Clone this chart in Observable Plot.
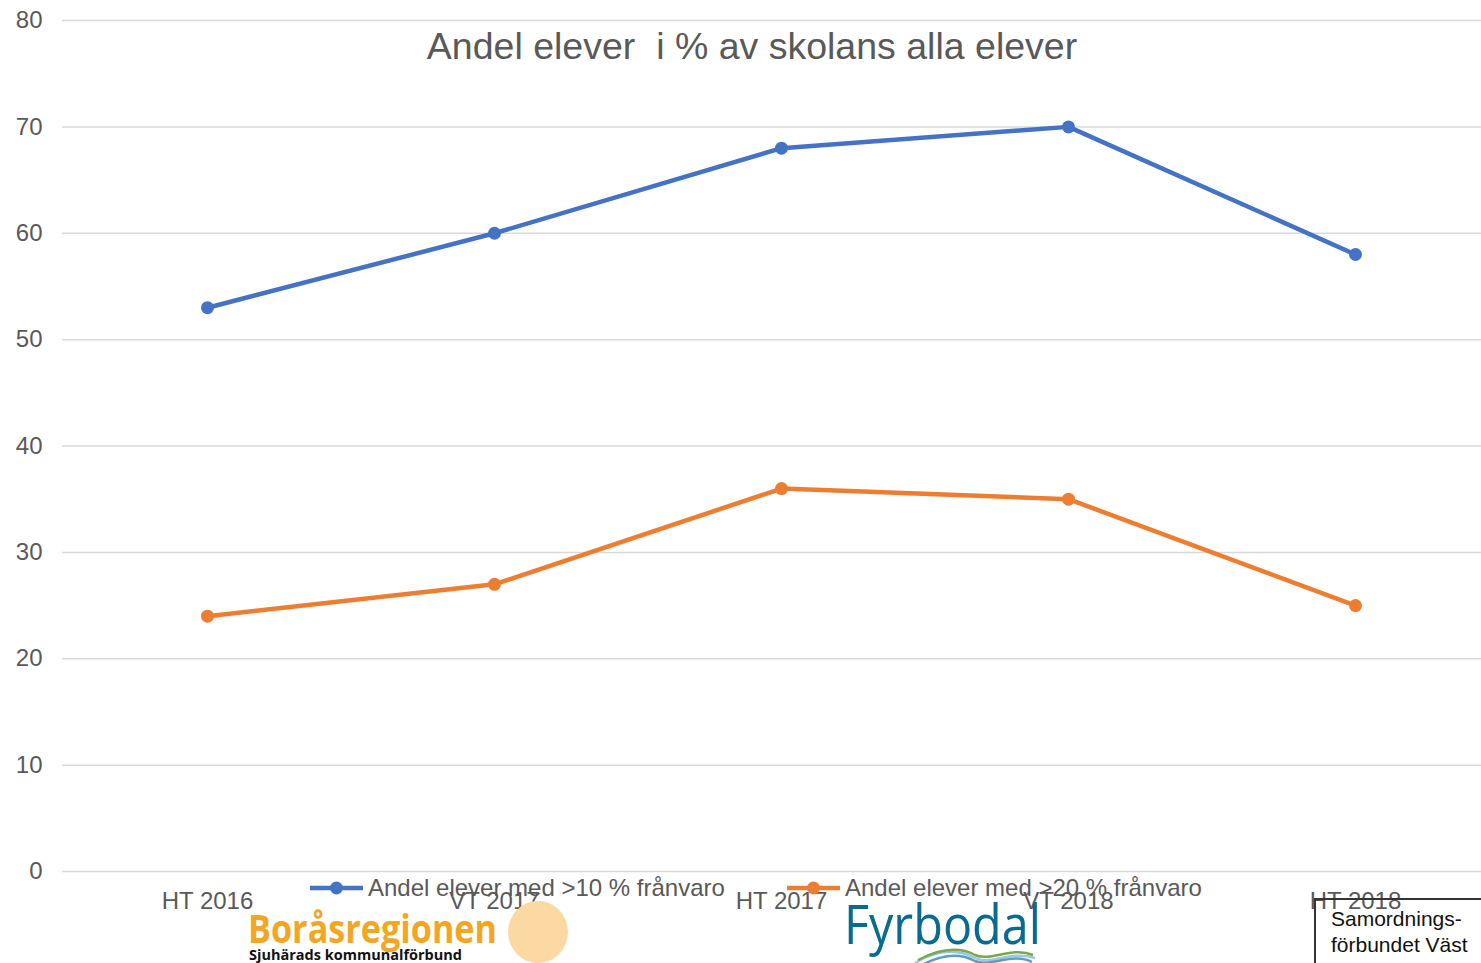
<!DOCTYPE html>
<html>
<head>
<meta charset="utf-8">
<script src="https://cdn.jsdelivr.net/npm/d3@7"></script>
<script src="https://cdn.jsdelivr.net/npm/@observablehq/plot@0.6"></script>
<style>
  html, body { margin: 0; padding: 0; background: #fff; }
  #wrap { position: relative; width: 1481px; height: 963px; overflow: hidden; font-family: "Liberation Sans", Arial, sans-serif; }
  #overlay { position: absolute; left: 0; top: 0; pointer-events: none; }
  svg text { white-space: pre; }
</style>
</head>
<body>
<div id="wrap"></div>
<script>
const categories = ["HT 2016", "VT 2017", "HT 2017", "VT 2018", "HT 2018"];
const over10 = [53, 60, 68, 70, 58];
const over20 = [24, 27, 36, 35, 25];
const seriesNames = ["Andel elever med >10 % frånvaro", "Andel elever med >20 % frånvaro"];
const seriesColors = ["#4472C4", "#ED7D31"];
const yTicks = [0, 10, 20, 30, 40, 50, 60, 70, 80];
const title = "Andel elever  i % av skolans alla elever";

const data = [];
categories.forEach((c, i) => {
  data.push({cat: c, value: over10[i], series: seriesNames[0]});
  data.push({cat: c, value: over20[i], series: seriesNames[1]});
});

const chart = Plot.plot({
  width: 1481,
  height: 963,
  marginLeft: 62,
  marginRight: 0,
  marginTop: 20,
  marginBottom: 92,
  style: {fontFamily: "'Liberation Sans', Arial, sans-serif", background: "#fff", color: "#595959"},
  x: {type: "point", domain: categories, range: [206, 1355], padding: 0},
  y: {domain: [0, 80]},
  color: {domain: seriesNames, range: seriesColors},
  marks: [
    Plot.ruleY(yTicks, {stroke: "#d9d9d9", strokeWidth: 1.5}),
    Plot.axisY({ticks: yTicks, tickSize: 0, tickPadding: 20, fontSize: 24, fill: "#595959", label: null}),
    Plot.axisX({tickSize: 0, tickPadding: 20, fontSize: 24, fill: "#595959", label: null}),
    Plot.line(data, {x: "cat", y: "value", z: "series", stroke: "series", strokeWidth: 4.5}),
    Plot.dot(data, {x: "cat", y: "value", fill: "series", r: 6.5}),
    Plot.text([title], {frameAnchor: "top", lineAnchor: "middle", dy: 26, dx: -20, fontSize: 37.5, fill: "#595959"})
  ]
});
document.getElementById("wrap").appendChild(chart);

// Overlay: legend and logos
const ov = d3.select("#wrap").append("svg")
  .attr("id", "overlay").attr("width", 1481).attr("height", 963);

// Legend
const legendX = [310, 787];
legendX.forEach((lx, i) => {
  const g = ov.append("g").attr("transform", `translate(${lx},888)`);
  g.append("line").attr("x1", 0).attr("x2", 53).attr("y1", 0).attr("y2", 0)
    .attr("stroke", seriesColors[i]).attr("stroke-width", 4.5);
  g.append("circle").attr("cx", 26.5).attr("cy", 0).attr("r", 6.5).attr("fill", seriesColors[i]);
  g.append("text").attr("x", 58).attr("y", 0).attr("dy", "0.35em")
    .attr("font-family", "'Liberation Sans', Arial, sans-serif")
    .attr("font-size", 24).attr("fill", "#595959")
    .text(seriesNames[i]);
});

// Boråsregionen logo
ov.append("ellipse").attr("cx", 538).attr("cy", 932).attr("rx", 30).attr("ry", 31).attr("fill", "#fcd9a2");
ov.append("text").attr("x", 248).attr("y", 943)
  .attr("font-family", "'Open Sans', 'Liberation Sans', sans-serif").attr("font-weight", "bold")
  .attr("font-size", 40).attr("fill", "#f2a623")
  .attr("textLength", 249).attr("lengthAdjust", "spacingAndGlyphs")
  .text("Boråsregionen");
ov.append("text").attr("x", 249).attr("y", 960)
  .attr("font-family", "'Open Sans', 'Liberation Sans', sans-serif").attr("font-weight", "bold")
  .attr("font-size", 15).attr("fill", "#111")
  .attr("textLength", 213).attr("lengthAdjust", "spacingAndGlyphs")
  .text("Sjuhärads kommunalförbund");

// Fyrbodal logo
ov.append("text").attr("x", 844).attr("y", 944)
  .attr("font-family", "'Open Sans', 'Liberation Sans', sans-serif")
  .attr("font-size", 54).attr("fill", "#0b6b8e")
  .attr("textLength", 197).attr("lengthAdjust", "spacingAndGlyphs")
  .text("Fyrbodal");
const waves = [
  {d: "M915,963 C940,948 960,950 975,958 C990,966 1010,950 1035,958", c: "#9cc7e0"},
  {d: "M918,960 C945,946 962,948 975,955 C990,962 1012,946 1033,955", c: "#7aa84a"},
  {d: "M920,966 C945,952 962,954 975,961 C990,968 1012,952 1032,962", c: "#5b9fc7"}
];
waves.forEach(w => ov.append("path").attr("d", w.d).attr("fill", "none").attr("stroke", w.c).attr("stroke-width", 2.5));

// Samordningsförbundet Väst
ov.append("path").attr("d", "M1315,963 L1315,899 L1481,899").attr("fill", "none").attr("stroke", "#333").attr("stroke-width", 2);
ov.append("text").attr("x", 1331).attr("y", 926)
  .attr("font-family", "'Liberation Sans', Arial, sans-serif").attr("font-size", 21).attr("fill", "#111")
  .text("Samordnings-");
ov.append("text").attr("x", 1331).attr("y", 952)
  .attr("font-family", "'Liberation Sans', Arial, sans-serif").attr("font-size", 21).attr("fill", "#111")
  .text("förbundet Väst");
</script>
</body>
</html>
